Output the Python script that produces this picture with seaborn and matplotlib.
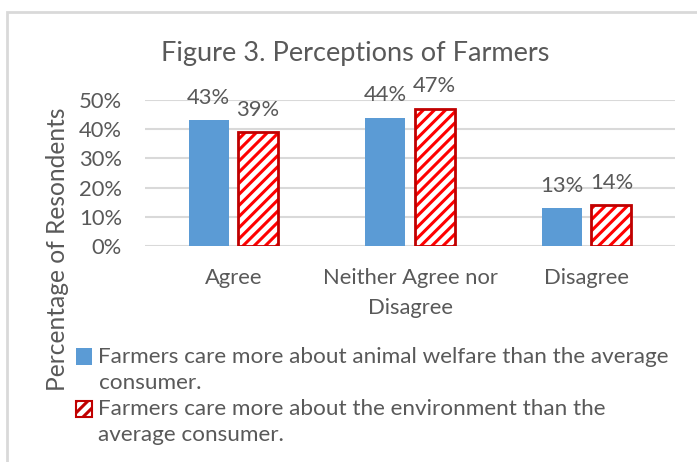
import matplotlib
matplotlib.use("Agg")
import matplotlib.pyplot as plt
from matplotlib.patches import Rectangle, Patch
from matplotlib.legend_handler import HandlerPatch
import seaborn as sns
import pandas as pd

# Survey data
responses = ["Agree", "Neither Agree nor\nDisagree", "Disagree"]
statements = [
    "Farmers care more about animal welfare than the average\nconsumer.",
    "Farmers care more about the environment than the\naverage consumer.",
]
animal_welfare = [43, 44, 13]
environment = [39, 47, 14]
yticks = [0, 10, 20, 30, 40, 50]

df = pd.DataFrame({
    "Response": responses * 2,
    "Percent": animal_welfare + environment,
    "Statement": [statements[0]] * 3 + [statements[1]] * 3,
})

sns.set_style("white")
plt.rcParams["font.family"] = ["Lato", "DejaVu Sans"]
plt.rcParams["hatch.linewidth"] = 2.2

TEXT = "#595959"
BLUE = "#5B9BD5"
RED = "#FF0000"
DARK_RED = "#C00000"
GRID = "#D9D9D9"
FS = 15.8
LEG_FS = 16.2

fig = plt.figure(figsize=(6.97, 4.62), dpi=100)
ax = fig.add_axes([145 / 697, 1 - 246 / 462, 530 / 697, 146 / 462])

sns.barplot(data=df, x="Response", y="Percent", hue="Statement",
            hue_order=statements, palette=[BLUE, "white"],
            width=0.56, gap=0.19, ax=ax, legend=False, saturation=1)

# hatched outline style for the second series
for bar in ax.containers[1]:
    bar.set_edgecolor(RED)
    bar.set_hatch("///")
    bar.set_linewidth(0)
    ax.add_patch(Rectangle(bar.get_xy(), bar.get_width(), bar.get_height(),
                           fill=False, edgecolor=DARK_RED, linewidth=2.0,
                           zorder=bar.get_zorder() + 0.1))
for bar in ax.containers[0]:
    bar.set_linewidth(0)

for cont in ax.containers:
    ax.bar_label(cont, labels=[f"{v:.0f}%" for v in cont.datavalues],
                 padding=9, fontsize=FS, color=TEXT)

ax.set_ylim(0, 50)
ax.set_xlim(-0.5, 2.5)
ax.set_yticks(yticks)
ax.set_yticklabels([f"{t}%" for t in yticks])
ax.yaxis.grid(True, color=GRID, linewidth=1.5)
ax.set_axisbelow(True)
for s in ax.spines.values():
    s.set_visible(False)
ax.tick_params(axis="both", length=0, labelsize=FS, colors=TEXT)
ax.tick_params(axis="y", pad=16.5)
ax.tick_params(axis="x", pad=16)
for lbl in ax.get_xticklabels():
    lbl.set_linespacing(1.6)
ax.set_xlabel("")
ax.set_ylabel("")

fig.text(58 / 697, 1 - 249 / 462, "Percentage of Resondents", rotation=90,
         ha="center", va="center", fontsize=17.7, color=TEXT)
fig.text(355 / 697, 1 - 53 / 462, "Figure 3. Perceptions of Farmers",
         ha="center", va="center", fontsize=19.5, color=TEXT)


def first_line_patch(legend, orig_handle, xdescent, ydescent, width, height, fontsize):
    # keep the swatch level with the first line of a two-line label
    return Rectangle((-xdescent, -ydescent + 0.59 * fontsize), width, height)


handles = [
    Patch(facecolor=BLUE, edgecolor="none"),
    Patch(facecolor="white", edgecolor=DARK_RED, hatch="///", linewidth=1.5),
]
leg = fig.legend(handles, statements, loc="upper left",
                 bbox_to_anchor=(76 / 697, 1 - 347 / 462), frameon=False,
                 fontsize=LEG_FS, handlelength=0.7, handleheight=0.75,
                 handletextpad=0.3, labelspacing=0.3, borderaxespad=0,
                 borderpad=0,
                 handler_map={Patch: HandlerPatch(patch_func=first_line_patch)})
for t in leg.get_texts():
    t.set_color(TEXT)
    t.set_linespacing(1.35)

# chart frame
fig.add_artist(Rectangle((6.5 / 697, -0.05), 1.1, 1 - 11.5 / 462 + 0.05,
                         transform=fig.transFigure, fill=False,
                         edgecolor=GRID, linewidth=2))

fig.savefig("out.png", dpi=100)
